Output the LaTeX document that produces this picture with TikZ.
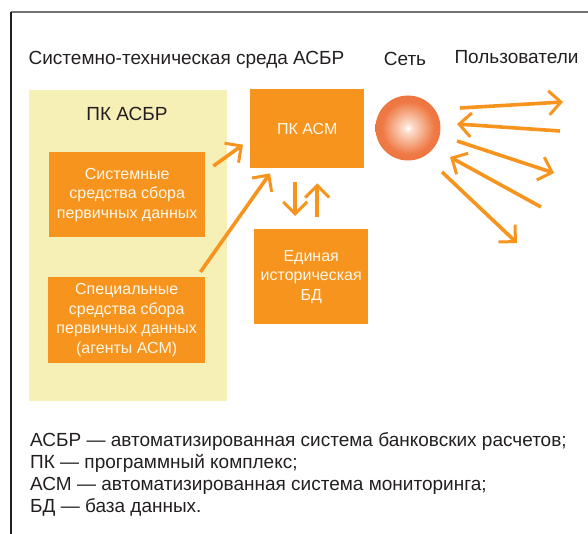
\documentclass[tikz,border=0pt]{standalone}
\usepackage{fontspec}
\setmainfont{Liberation Sans}
\usetikzlibrary{arrows.meta,calc}
\definecolor{orng}{HTML}{F7941D}
\definecolor{sphcol}{HTML}{E8612B}
\definecolor{sphmid}{HTML}{EF7A45}
\definecolor{sphlight}{HTML}{FCE0D0}
\definecolor{yel}{HTML}{F6EFB6}
\definecolor{txt}{HTML}{231F20}
\definecolor{boxtxt}{HTML}{FFF8EA}
\pgfdeclareradialshading{sphere}{\pgfpoint{0bp}{0bp}}{color(0bp)=(white); color(3bp)=(sphlight); color(20bp)=(sphmid); color(50bp)=(sphcol)}
\tikzset{
  heading/.style={font=\fontsize{19}{22}\selectfont, text=txt, inner sep=0pt, anchor=base},
  obox/.style={fill=orng, draw=none, text=boxtxt, align=center, inner sep=0pt,
     font=\fontsize{16}{19.5}\selectfont},
  legend/.style={font=\fontsize{19}{22}\selectfont, text=txt, inner sep=0pt, anchor=base west},
  oarrow/.style={draw=orng, line width=3.6pt,
     -{Straight Barb[length=12pt,width=24pt,line width=3pt]}},
}
\begin{document}
\begin{tikzpicture}[x=1pt,y=-1pt]
\useasboundingbox (0,0) rectangle (588,534);
% frame
\draw[draw=black!55, line width=1.5pt] (10.5,12) -- (588,12);
\draw[draw=txt, line width=1.3pt] (11,12) -- (11,534);
% headings
\node[heading] (title) at (186.5,65) {Системно-техническая среда АСБР};
\node[heading] (net-l) at (405,66) {Сеть};
\node[heading] (users) at (516.5,64) {Пользователи};
% yellow area
\node[fill=yel, minimum width=198pt, minimum height=311pt, inner sep=0pt, anchor=north west] (asbr) at (29,90) {};
\node[heading] (asbr-l) at (127,121) {ПК АСБР};
% boxes
\node[obox, minimum width=156pt, minimum height=85pt, anchor=north west] (b1) at (49,152)
  {Системные\\средства сбора\\первичных данных};
\node[obox, minimum width=157pt, minimum height=86pt, anchor=north west] (b2) at (48,277)
  {Специальные\\средства сбора\\первичных данных\\(агенты АСМ)};
\node[obox, minimum width=114pt, minimum height=79pt, anchor=north west] (asm) at (250,89)
  {ПК АСМ};
\node[obox, minimum width=114pt, minimum height=95pt, anchor=north west] (db) at (254,229)
  {Единая\\историческая\\БД};
% sphere
\node[circle, minimum size=65pt, inner sep=0pt, shading=sphere] (net) at (408,128) {};
% arrows into PK ASM
\draw[oarrow] ($(b1.north east)+(8,14)$) -- ($(asm.west)+(-7,16)$);
\draw[oarrow] ($(b2.north east)+(-5,-5)$) -- ($(asm.south west)+(20,5)$);
% between ASM and DB
\draw[oarrow] ($(asm.south)+(-12,14)$) -- ($(db.north)+(-16,-13)$);
\draw[oarrow] ($(db.north)+(6,-12)$) -- ($(asm.south)+(10,15)$);
% users
\coordinate (u1) at (563,102);
\coordinate (u2) at (560,131);
\coordinate (u3) at (554,173);
\coordinate (u4) at (541,207);
\coordinate (u5) at (517,243);
\draw[oarrow] ($(net.center)+(52,-20)$) -- (u1);
\draw[oarrow] (u2) -- ($(net.center)+(49,-4)$);
\draw[oarrow] ($(net.center)+(49,13)$) -- (u3);
\draw[oarrow] (u4) -- ($(net.center)+(42,29)$);
\draw[oarrow] ($(net.center)+(34,44)$) -- (u5);
% legend
\node[legend] (leg1) at (30,446) {АСБР — автоматизированная система банковских расчетов;};
\node[legend] (leg2) at (30,468) {ПК — программный комплекс;};
\node[legend] (leg3) at (30,490) {АСМ — автоматизированная система мониторинга;};
\node[legend] (leg4) at (30,512) {БД — база данных.};
\end{tikzpicture}
\end{document}
